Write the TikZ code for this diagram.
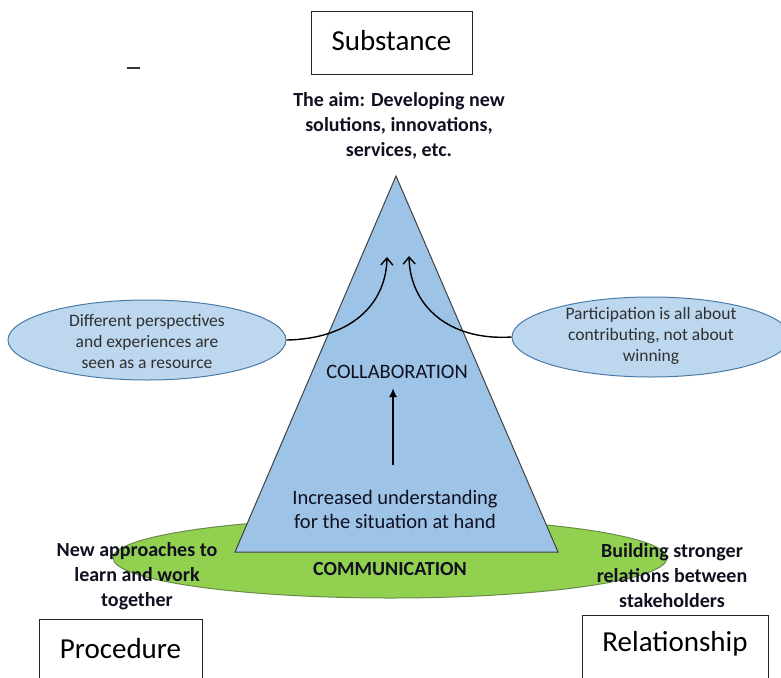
\documentclass[tikz,border=0pt]{standalone}
\usepackage{fontspec}
\setmainfont{Carlito}
\usetikzlibrary{arrows.meta,shapes.geometric}
\definecolor{triblue}{HTML}{9DC3E6}
\definecolor{ellblue}{HTML}{BDD7EE}
\definecolor{ellborder}{HTML}{4A7BA8}
\definecolor{grass}{HTML}{92D050}
\definecolor{grassborder}{HTML}{6A8A4A}
\definecolor{ink}{HTML}{101020}
\definecolor{greyink}{HTML}{303030}
\tikzset{
  framebox/.style={draw=black!85, line width=1pt, fill=white},
  bigtext/.style={font=\fontsize{29}{35}\selectfont, text=black},
  boldlabel/.style={font=\bfseries\fontsize{20}{25}\selectfont, align=center, text=ink},
  plainlabel/.style={font=\fontsize{20.5}{24}\selectfont, align=center, text=ink},
  bubble/.style={ellipse, draw=ellborder, line width=1pt, fill=ellblue, inner sep=0pt,
    minimum width=278pt, minimum height=80pt},
  bubbletext/.style={font=\fontsize{17.5}{21}\selectfont, align=center, text=greyink},
  curvearrow/.style={draw=black, line width=1.4pt, -{Straight Barb[length=7pt,width=12pt,line width=1.4pt]}},
}
\begin{document}
\begin{tikzpicture}[x=1pt,y=-1pt]
\useasboundingbox (0,0) rectangle (781,677);
\clip (0,0) rectangle (781,677);

% top box
\node[framebox, minimum width=161pt, minimum height=62pt] (subbox) at (391.5,43) {};
\node[bigtext] (substance) at (391.5,41) {Substance};
\draw[line width=2pt, black!80] (127,68) -- (140,68);

% aim text
\node[boldlabel] (aim) at (399,126) {The aim: Developing new\\solutions, innovations,\\services, etc.};

% communication ellipse
\node[ellipse, draw=grassborder, line width=1pt, fill=grass, minimum width=554pt, minimum height=80pt] (comm) at (390,558) {};

% triangle
\coordinate (apex) at (396,176);
\coordinate (bl) at (235,552);
\coordinate (br) at (558,552);
\draw[fill=triblue, draw=black!75, line width=1pt, line join=miter] (apex) -- (br) -- (bl) -- cycle;

% side bubbles
\node[bubble] (left) at (147,340) {};
\node[bubbletext] (lefttext) at (147,342) {Different perspectives\\and experiences are\\seen as a resource};
\node[bubble] (right) at (651,337) {};
\node[bubbletext] (righttext) at (651,336) {Participation is all about\\contributing, not about\\winning};

% curved arrows
\coordinate (tipL) at (387,257);
\coordinate (tipR) at (409,256);
\draw[curvearrow] (left.east) .. controls (350,339) and (386,305) .. (tipL);
\draw[curvearrow] (right.west) .. controls (448,341) and (410,305) .. (tipR);

% collaboration
\node[plainlabel] (collab) at (397,372) {COLLABORATION};
\node[plainlabel] (incr) at (395,509) {Increased understanding\\for the situation at hand};
\coordinate (arrowbase) at (393,465);
\coordinate (arrowtip) at (393,388);
\draw[line width=2pt, -{Latex[length=9pt,width=8pt]}] (arrowbase) -- (arrowtip);

% communication text
\node[boldlabel] (commtext) at (390,569) {COMMUNICATION};

% side labels
\node[boldlabel] (newapp) at (137,576) {New approaches to\\learn and work\\together};
\node[boldlabel] (build) at (672,576) {Building stronger\\relations between\\stakeholders};

% bottom boxes
\node[framebox, minimum width=163pt, minimum height=80pt] (procbox) at (120.5,659) {};
\node[bigtext] (procedure) at (120.5,649) {Procedure};
\node[framebox, minimum width=186pt, minimum height=80pt] (relbox) at (675,655) {};
\node[bigtext] (relationship) at (675,644) {Relationship};
\end{tikzpicture}
\end{document}
